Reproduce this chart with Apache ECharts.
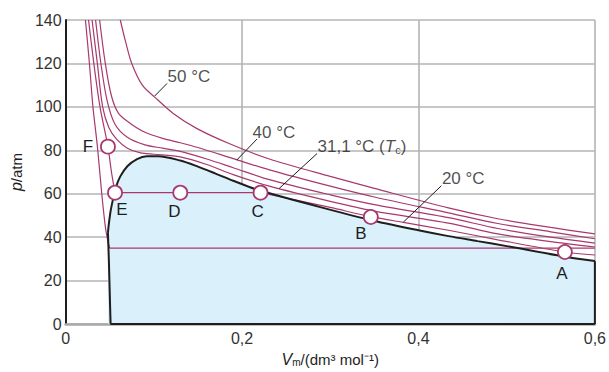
<!DOCTYPE html>
<html>
<head>
<meta charset="utf-8">
<title>CO2 isotherms</title>
<script src="https://cdn.jsdelivr.net/npm/echarts/dist/echarts.min.js"></script>
<style>
  html, body { margin: 0; padding: 0; background: #fff; }
  #chart { width: 609px; height: 372px; }
</style>
</head>
<body>
<div id="chart"></div>
<script>
// axis ticks
const xTickValues = [0, 0.2, 0.4, 0.6];
const xTickLabels = ['0', '0,2', '0,4', '0,6'];

// isotherms, [Vm, p]
const iso50 = [[0.062, 140], [0.068, 130], [0.075, 120], [0.087, 110], [0.101, 104.5], [0.122, 97], [0.149, 90], [0.186, 83], [0.231, 76], [0.3, 68], [0.35, 62.5], [0.434, 53.5], [0.49, 48.5], [0.55, 44.5], [0.6, 41.5]];
const iso40 = [[0.0386, 140], [0.045, 120], [0.052, 105], [0.06, 97], [0.073, 92.5], [0.09, 88.3], [0.11, 85.5], [0.13, 83.5], [0.15, 81.3], [0.19, 76.2], [0.231, 71], [0.3, 63.5], [0.35, 58.5], [0.434, 51.2], [0.49, 46.3], [0.55, 42.5], [0.6, 39.3]];
const isoMid = [[0.034, 140], [0.04, 120], [0.047, 103], [0.056, 92], [0.07, 86], [0.09, 82.5], [0.11, 81], [0.13, 79.5], [0.16, 76], [0.19, 72], [0.231, 66.5], [0.3, 59.5], [0.35, 55], [0.434, 49], [0.49, 44], [0.55, 40], [0.6, 37.3]];
const isoTc = [[0.03, 140], [0.036, 120], [0.042, 100], [0.049, 90.5], [0.058, 85], [0.07, 81], [0.085, 78.8], [0.1, 78.2], [0.13, 77], [0.16, 73.5], [0.19, 68.8], [0.231, 63.5], [0.3, 56.5], [0.35, 52], [0.434, 46.5], [0.49, 41.5], [0.55, 38], [0.6, 35.5]];
const iso20Gas = [[0.221, 60.5], [0.26, 57.2], [0.3, 53.7], [0.346, 49.5], [0.383, 46.8], [0.434, 43.2], [0.49, 38.8], [0.566, 33.2], [0.6, 31.8]];
const iso20Flat = [[0.056, 60.5], [0.221, 60.5]];
const iso20Liquid = [[0.026, 140], [0.032, 120], [0.039, 100], [0.048, 81.7], [0.052, 70], [0.056, 60.5]];
const isoLowLiquid = [[0.0225, 140], [0.027, 120], [0.031, 100], [0.036, 82], [0.041, 60], [0.045, 45], [0.048, 38], [0.05, 35]];
const isoLowFlat = [[0.05, 35], [0.6, 35]];

// two-phase region outline
const twoPhaseTop = [[0.048, 42], [0.049, 46], [0.051, 52], [0.054, 58], [0.057, 63], [0.062, 68], [0.07, 72.7], [0.081, 76], [0.092, 77.3], [0.105, 77.3], [0.13, 75.3], [0.15, 72.5], [0.17, 69.3], [0.19, 66], [0.216, 62], [0.235, 59.8], [0.28, 54.8], [0.343, 48.2], [0.4, 43.2], [0.434, 40.5], [0.467, 38.2], [0.5, 35.9], [0.561, 31.4], [0.6, 29]];
const twoPhaseLeft = [[0.051, 0], [0.049, 30], [0.048, 42]];
const twoPhaseRight = [[0.6, 29], [0.6, 0]];
const twoPhaseBottom = [[0.051, 0], [0.6, 0]];

// marked states
const pointNames = ['A', 'B', 'C', 'D', 'E', 'F'];
const pointValues = [[0.566, 33.2], [0.346, 49.3], [0.221, 60.5], [0.13, 60.5], [0.056, 60.5], [0.048, 81.7]];

// isotherm labels with leader lines
const isoLabels = ['50 °C', '40 °C', '31,1 °C ({i|T}{s|c})', '20 °C'];
const leaderFrom = [[0.101, 105], [0.194, 75.5], [0.242, 62.4], [0.383, 47]];
const leaderTo = [[0.115, 110.8], [0.217, 85.2], [0.285, 78.5], [0.426, 63.7]];

const pink = '#a8386f';
const ink = '#1e1e1e';
const font = 'Liberation Sans';

const pointLabelStyle = {
  A: { position: 'bottom', distance: 5, offset: [-3, 0] },
  B: { position: 'bottom', distance: 0, offset: [-10, 0] },
  C: { position: 'bottom', distance: 2, offset: [-3, 0] },
  D: { position: 'bottom', distance: 2, offset: [-6, 0] },
  E: { position: 'bottom', distance: 0, offset: [7, 0] },
  F: { position: 'left', distance: 7, offset: [0, 0] },
};
const labelDx = [0, -5, 0, 0];

function pinkLine(name, data, smooth) {
  return {
    name: name,
    type: 'line',
    data: data,
    smooth: smooth,
    symbol: 'none',
    z: 3,
    lineStyle: { color: pink, width: 1.2 },
  };
}

function blackLine(data) {
  return {
    type: 'line',
    data: data,
    symbol: 'none',
    z: 4,
    lineStyle: { color: ink, width: 2 },
  };
}

const chart = echarts.init(document.getElementById('chart'), null, { renderer: 'svg' });

const subRich = {
  i: { fontStyle: 'italic', fontSize: 16, fontFamily: font, color: ink },
  s: { fontSize: 10, fontFamily: font, color: ink, verticalAlign: 'bottom', lineHeight: 10 },
};

const option = {
  animation: false,
  backgroundColor: '#fff',
  textStyle: { fontFamily: font },
  grid: { left: 65, right: 11, top: 20, bottom: 40 },
  xAxis: {
    type: 'value',
    min: 0,
    max: 0.6,
    interval: 0.2,
    name: '{i|V}{s|m}/(dm³ mol⁻¹)',
    nameLocation: 'middle',
    nameGap: 20,
    nameTextStyle: { fontSize: 15, color: ink, fontFamily: font, rich: subRich },
    axisLine: { lineStyle: { color: '#a8a8a8', width: 2.5 } },
    axisTick: { show: false },
    axisLabel: {
      fontSize: 16,
      color: '#333',
      margin: 6,
      formatter: (v) => {
        const i = xTickValues.findIndex((t) => Math.abs(t - v) < 1e-9);
        return i < 0 ? '' : xTickLabels[i];
      },
    },
    splitLine: { show: true, lineStyle: { color: '#b4b4b4', width: 1.6 } },
  },
  yAxis: {
    type: 'value',
    min: 0,
    max: 140,
    interval: 20,
    name: '{i|p}/atm',
    nameLocation: 'middle',
    nameGap: 40,
    nameTextStyle: { fontSize: 15, color: ink, fontFamily: font, rich: subRich },
    axisLine: { show: true, lineStyle: { color: ink, width: 2 } },
    axisTick: { show: false },
    axisLabel: { fontSize: 16, color: '#333', margin: 4 },
    splitLine: { show: true, lineStyle: { color: '#b4b4b4', width: 1.6 } },
  },
  series: [
    {
      name: 'two-phase',
      type: 'line',
      data: twoPhaseTop,
      smooth: 0.3,
      symbol: 'none',
      z: 1,
      lineStyle: { width: 0 },
      areaStyle: { color: '#daf0fa', opacity: 1, origin: 'start' },
    },
    pinkLine('50', iso50, 0.3),
    pinkLine('40', iso40, 0.3),
    pinkLine('mid', isoMid, 0.3),
    pinkLine('Tc', isoTc, 0.3),
    pinkLine('20 gas', iso20Gas, 0.3),
    pinkLine('20 flat', iso20Flat, false),
    pinkLine('20 liquid', iso20Liquid, 0.3),
    pinkLine('low liquid', isoLowLiquid, 0.3),
    pinkLine('low flat', isoLowFlat, false),
    Object.assign(blackLine(twoPhaseTop), { smooth: 0.3 }),
    blackLine(twoPhaseLeft),
    blackLine(twoPhaseRight),
    blackLine(twoPhaseBottom),
    {
      name: 'leaders',
      type: 'lines',
      coordinateSystem: 'cartesian2d',
      z: 5,
      lineStyle: { color: ink, width: 1, opacity: 1 },
      data: leaderFrom.map((p, i) => ({ coords: [p, leaderTo[i]] })),
    },
    {
      name: 'isotherm labels',
      type: 'scatter',
      symbolSize: 1,
      z: 6,
      itemStyle: { color: 'rgba(0,0,0,0)' },
      data: leaderTo.map((p, i) => ({
        value: p,
        label: {
          show: true,
          position: 'right',
          distance: 0,
          offset: [labelDx[i], -7],
          formatter: isoLabels[i],
          fontSize: 17,
          color: ink,
          fontFamily: font,
          rich: {
            i: { fontStyle: 'italic', fontSize: 17, fontFamily: font, color: ink },
            s: { fontSize: 11, fontFamily: font, color: ink, verticalAlign: 'bottom', lineHeight: 11 },
          },
        },
      })),
    },
    {
      name: 'states',
      type: 'scatter',
      symbol: 'circle',
      symbolSize: 14,
      z: 7,
      itemStyle: { color: '#fff', borderColor: pink, borderWidth: 1.8, opacity: 1 },
      data: pointValues.map((v, i) => ({
        name: pointNames[i],
        value: v,
        label: Object.assign({
          show: true,
          formatter: '{b}',
          fontSize: 17,
          color: ink,
          fontFamily: font,
        }, pointLabelStyle[pointNames[i]]),
      })),
    },
  ],
};

chart.setOption(option);
</script>
</body>
</html>
